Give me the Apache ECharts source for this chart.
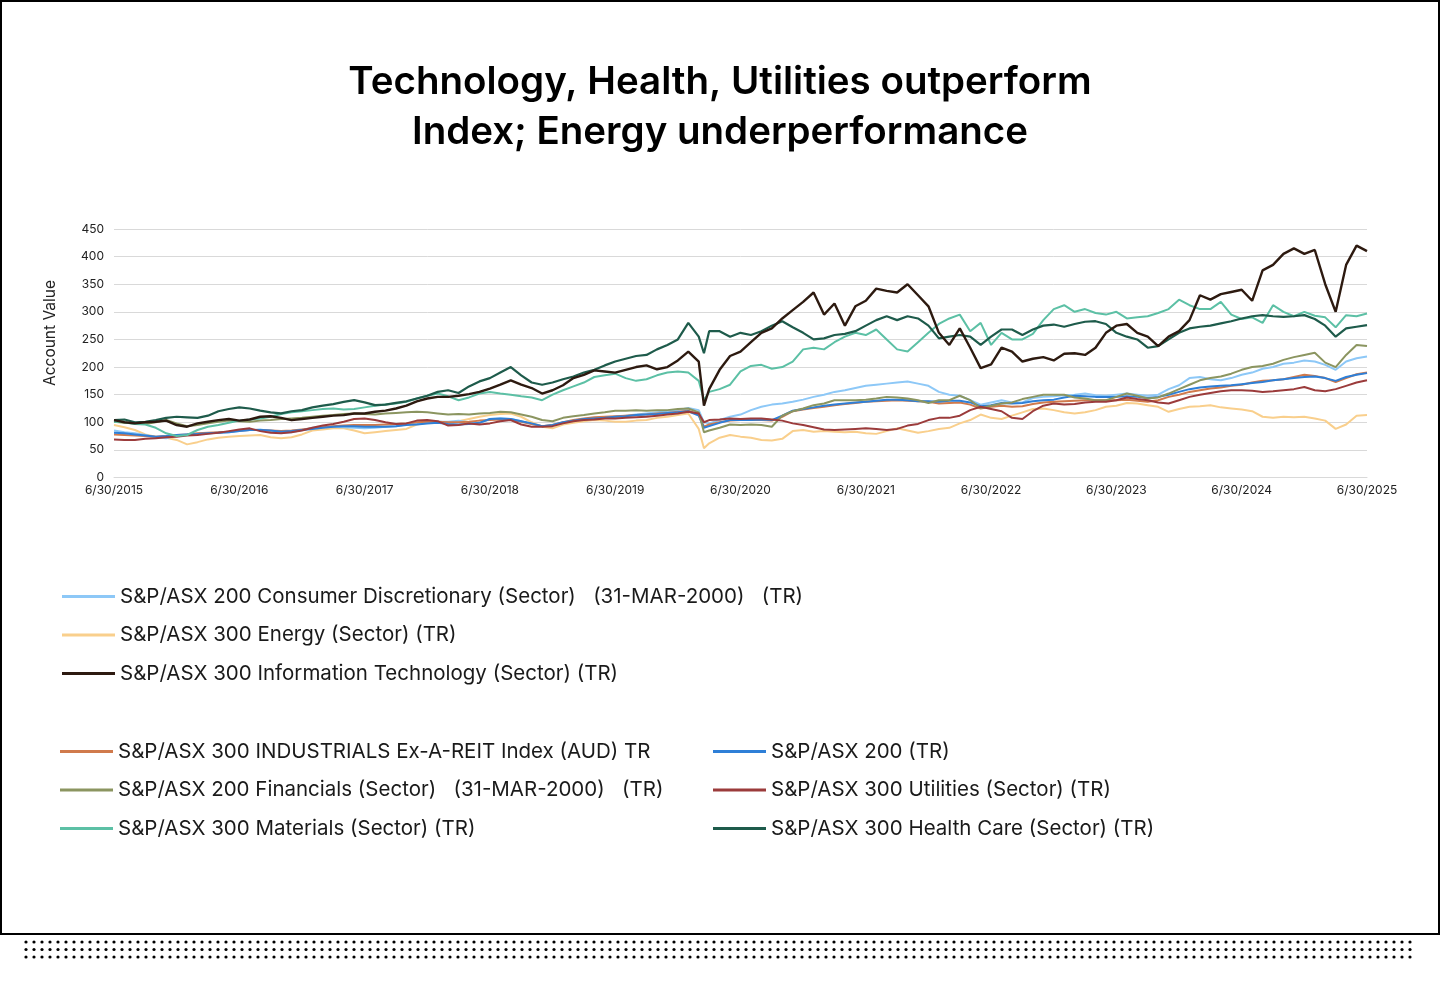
<!DOCTYPE html>
<html>
<head>
<meta charset="utf-8">
<script src="https://cdn.jsdelivr.net/npm/echarts@6/dist/echarts.min.js"></script>
<style>
html,body{margin:0;padding:0;background:#fff;}
#chart{width:1440px;height:1002px;}
</style>
</head>
<body>
<div id="chart"></div>
<script>
// x positions: months since 6/30/2015 (56.5 = March 2020 trough)
const months = [];
for (let m = 0; m <= 56; m++) months.push(m);
months.push(56.5);
for (let m = 57; m <= 120; m++) months.push(m);

const xTickLabels = ['6/30/2015','6/30/2016','6/30/2017','6/30/2018','6/30/2019','6/30/2020','6/30/2021','6/30/2022','6/30/2023','6/30/2024','6/30/2025'];

const consumerDisc = [
85,82,80,77,73,71,76,78,79,80,
81,82,84,86,87,84,81,82,86,90,
92,92,91,90,89,90,92,93,96,98,
100,101,101,103,100,99,106,107,106,102,
97,93,94,99,103,105,107,109,110,112,
114,116,118,120,122,126,122,
100,
98,104,110,114,122,128,132,134,137,141,
146,150,155,158,162,166,168,170,172,174,
170,166,155,150,148,140,132,136,140,136,
136,144,146,147,149,150,152,149,148,150,
152,150,148,150,160,167,180,182,178,176,
180,186,190,197,200,206,208,212,210,204,
195,210,216,219];

const energy = [
95,91,86,78,74,72,68,60,64,69,
72,74,75,76,77,73,71,73,78,85,
87,89,89,85,80,82,84,86,88,96,
99,101,98,102,106,110,113,115,116,110,
100,92,89,96,99,102,104,103,101,101,
103,104,108,110,113,116,88,
53,
62,72,77,74,72,68,67,70,84,86,
83,84,83,82,83,80,79,84,89,85,
81,84,88,90,98,104,114,108,106,112,
118,124,125,122,118,116,118,122,128,130,
135,134,131,128,119,124,128,129,131,127,
125,123,120,110,108,110,109,110,107,103,
88,96,112,113];

const infoTech = [
104,100,98,100,101,103,95,92,98,101,
104,106,103,105,110,111,108,104,106,108,
110,112,113,116,116,119,121,125,130,138,
143,146,146,148,151,155,161,168,176,168,
162,152,158,167,180,186,194,192,190,195,
200,203,196,200,212,228,210,
130,
160,195,220,228,245,262,270,288,303,318,
335,295,315,275,310,320,342,338,335,350,
330,310,262,240,270,235,198,205,235,228,
210,215,218,212,224,225,222,235,262,275,
278,262,255,238,255,265,285,330,322,332,
336,340,320,375,385,405,415,405,412,350,
300,385,420,410];

const industrials = [
78,77,76,75,74,75,77,78,80,81,
82,83,85,86,86,85,84,85,87,89,
91,93,94,95,95,95,96,97,98,100,
101,101,100,100,101,103,104,105,104,101,
97,93,95,100,104,107,109,110,111,112,
113,114,116,117,119,121,114,
92,
96,100,103,104,104,104,103,110,120,123,
126,128,131,133,135,137,138,139,140,139,
138,137,134,135,136,132,125,128,130,128,
129,133,136,137,138,139,140,140,140,140,
141,139,137,140,146,150,155,158,161,163,
166,168,172,175,176,178,182,186,184,180,
173,180,187,190];

const financials = [
101,99,98,97,100,104,98,93,95,98,
101,103,102,101,103,104,106,107,108,110,
112,113,115,116,115,114,116,117,118,119,
118,116,114,115,114,116,117,119,118,114,
110,104,102,108,111,113,116,118,121,121,
122,121,122,122,124,125,118,
82,
85,90,96,95,96,95,92,112,120,125,
131,134,140,140,140,141,143,146,145,143,
140,135,140,140,148,140,126,130,134,136,
142,146,150,150,150,145,143,140,140,146,
152,148,143,145,152,160,168,176,180,183,
188,195,200,202,206,213,218,222,226,208,
200,222,240,238];

const materials = [
101,100,97,96,90,80,75,77,86,92,
95,99,103,105,107,110,115,118,120,122,
124,125,123,124,127,130,132,134,137,143,
148,152,147,140,145,152,155,152,150,147,
145,140,150,158,165,172,182,185,188,180,
175,178,185,190,192,190,175,
140,
155,160,168,192,202,204,197,200,210,232,
235,232,245,255,262,258,268,250,232,228,
245,262,278,288,295,265,280,240,262,250,
250,260,285,305,312,300,305,298,295,300,
288,290,292,298,305,322,312,305,305,318,
295,287,290,280,312,300,292,300,293,290,
272,294,292,297];

const asx200 = [
81,80,78,76,74,75,77,78,79,80,
81,82,84,86,86,85,83,84,86,88,
90,92,93,93,92,92,92,93,95,96,
98,99,97,96,97,99,106,107,106,102,
98,93,95,100,103,106,107,108,110,111,
113,114,115,117,118,120,112,
90,
93,99,104,104,104,105,104,112,121,124,
127,130,132,134,136,137,139,141,141,140,
138,138,137,139,139,136,129,131,135,134,
135,138,140,141,145,148,147,146,146,146,
147,146,144,146,150,155,160,163,165,166,
167,169,171,173,176,178,180,182,183,180,
175,182,186,189];

const utilities = [
69,68,68,70,71,73,74,76,77,79,
81,84,87,89,84,81,80,82,85,90,
94,97,101,106,107,104,100,97,98,103,
104,102,94,95,98,96,98,102,104,96,
92,92,93,98,102,104,105,107,107,108,
109,110,112,114,116,119,116,
100,
104,105,107,106,107,107,105,103,98,95,
91,87,86,87,88,89,88,86,88,94,
97,104,108,108,112,122,128,124,120,108,
106,120,130,134,132,133,136,137,137,140,
145,142,140,136,134,140,146,150,153,156,
158,158,157,155,156,158,160,164,158,156,
160,166,172,176];

const healthCare = [
104,105,100,101,104,108,110,109,108,112,
120,124,127,125,121,118,116,120,122,127,
130,133,137,140,136,131,132,135,138,143,
148,155,158,153,165,174,180,190,200,185,
172,168,172,178,183,190,195,203,210,215,
220,222,232,240,250,280,255,
225,
265,265,255,262,258,265,275,283,272,262,
250,252,258,260,265,275,285,292,285,292,
288,275,252,255,258,255,240,255,268,268,
258,268,275,277,273,278,282,283,278,262,
255,250,235,238,250,262,270,273,275,279,
283,288,292,294,292,291,292,294,287,275,
255,270,273,276];

const seriesNames = {
  cd: 'S&P/ASX 200 Consumer Discretionary (Sector)   (31-MAR-2000)   (TR)',
  en: 'S&P/ASX 300 Energy (Sector) (TR)',
  it: 'S&P/ASX 300 Information Technology (Sector) (TR)',
  ind: 'S&P/ASX 300 INDUSTRIALS Ex-A-REIT Index (AUD) TR',
  fin: 'S&P/ASX 200 Financials (Sector)   (31-MAR-2000)   (TR)',
  mat: 'S&P/ASX 300 Materials (Sector) (TR)',
  asx: 'S&P/ASX 200 (TR)',
  utl: 'S&P/ASX 300 Utilities (Sector) (TR)',
  hc: 'S&P/ASX 300 Health Care (Sector) (TR)'
};

const FONT = 'Inter, "Noto Sans", sans-serif';

function mk(name, values, color, width, z) {
  return {
    name: name, type: 'line', showSymbol: false, symbol: 'none',
    data: months.map((m, i) => [m, values[i]]),
    lineStyle: { color: color, width: width },
    itemStyle: { color: color },
    z: z, animation: false
  };
}

// decorative frame + dotted band + y axis title
const graphics = [{
  type: 'rect', shape: { x: 1, y: 1, width: 1438, height: 933 },
  style: { fill: 'none', stroke: '#000', lineWidth: 2 }, silent: true
}, {
  type: 'text', x: 50, y: 333, rotation: Math.PI / 2,
  style: { text: 'Account Value', fontFamily: FONT, fontSize: 15.5, fill: '#222', align: 'center', verticalAlign: 'middle' },
  silent: true
}];
const dotRows = [942, 949.5, 957];
for (const cy of dotRows) {
  for (let cx = 26; cx <= 1410; cx += 8) {
    graphics.push({ type: 'circle', shape: { cx: cx, cy: cy, r: 1.6 }, style: { fill: '#000' }, silent: true });
  }
}

const legendCommon = {
  orient: 'vertical', icon: 'rect', itemWidth: 53, itemHeight: 3, itemGap: 17.5, padding: 0,
  textStyle: { fontFamily: FONT, fontSize: 20.5, color: '#1a1a1a', lineHeight: 20 },
  selectedMode: false
};

const chart = echarts.init(document.getElementById('chart'), null, { renderer: 'canvas' });
chart.setOption({
  backgroundColor: '#fff',
  animation: false,
  title: {
    text: 'Technology, Health, Utilities outperform\nIndex; Energy underperformance',
    left: 'center', top: 52,
    textStyle: { fontFamily: FONT, fontSize: 38.5, fontWeight: 600, color: '#000', lineHeight: 50 }
  },
  graphic: graphics,
  grid: { left: 114, right: 73, top: 229, bottom: 524.5, containLabel: false },
  xAxis: {
    type: 'value', min: 0, max: 120, interval: 12,
    axisLine: { show: true, lineStyle: { color: '#d9d9d9', width: 1 } },
    axisTick: { show: false },
    splitLine: { show: false },
    axisLabel: {
      margin: 7, fontFamily: FONT, fontSize: 12, color: '#222',
      formatter: v => xTickLabels[Math.round(v / 12)]
    }
  },
  yAxis: {
    type: 'value', min: 0, max: 450, interval: 50,
    axisLine: { show: false }, axisTick: { show: false },
    splitLine: { lineStyle: { color: '#d9d9d9', width: 1 } },
    axisLabel: { margin: 10, fontFamily: FONT, fontSize: 12, color: '#222' }
  },
  legend: [
    Object.assign({}, legendCommon, { left: 62, top: 586, data: [seriesNames.cd, seriesNames.en, seriesNames.it] }),
    Object.assign({}, legendCommon, { left: 60, top: 741, data: [seriesNames.ind, seriesNames.fin, seriesNames.mat] }),
    Object.assign({}, legendCommon, { left: 713, top: 741, data: [seriesNames.asx, seriesNames.utl, seriesNames.hc] })
  ],
  series: [
    mk(seriesNames.en, energy, '#f9cf8c', 2, 2),
    mk(seriesNames.cd, consumerDisc, '#8dc8f7', 2, 2),
    mk(seriesNames.ind, industrials, '#d07a4c', 2, 2),
    mk(seriesNames.asx, asx200, '#2e7fd7', 2, 2),
    mk(seriesNames.fin, financials, '#8b9560', 2, 2),
    mk(seriesNames.utl, utilities, '#9b3b3b', 2, 2),
    mk(seriesNames.mat, materials, '#5cc0a5', 2, 2),
    mk(seriesNames.hc, healthCare, '#1e5b4b', 2.2, 2),
    mk(seriesNames.it, infoTech, '#2d1a10', 2.4, 3)
  ]
});
</script>
</body>
</html>
